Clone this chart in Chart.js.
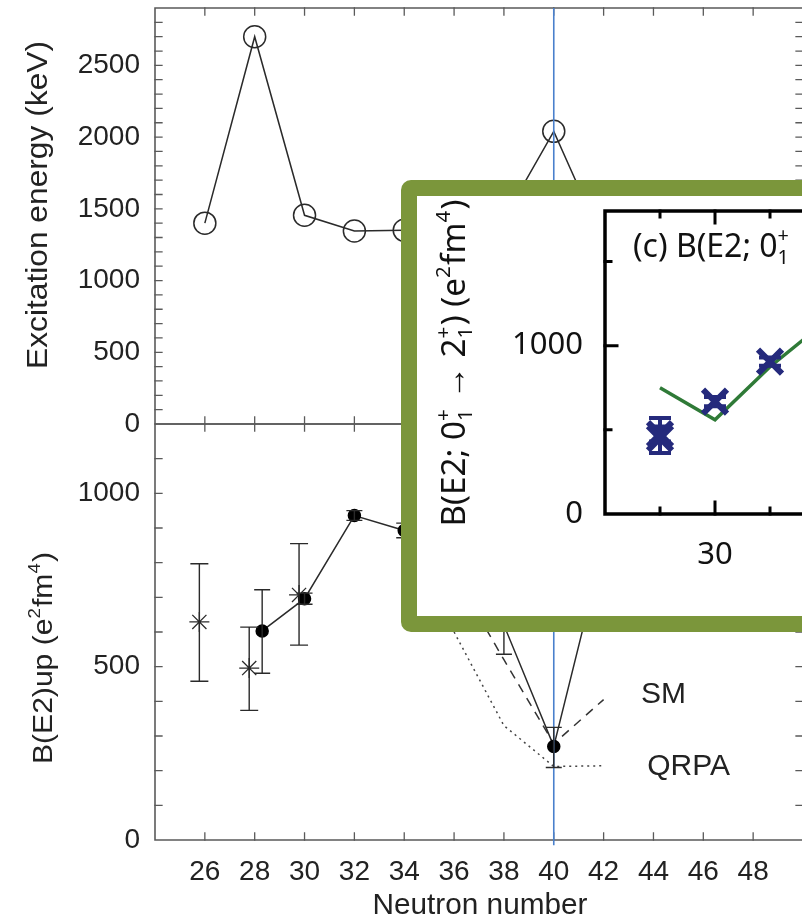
<!DOCTYPE html>
<html lang="en">
<head>
<meta charset="UTF-8">
<title>2+ energies and B(E2) vs neutron number</title>
<script src="https://cdn.jsdelivr.net/npm/chart.js@4.4.1/dist/chart.umd.min.js"></script>
<style>
  html, body { margin: 0; padding: 0; background: #fff; overflow: hidden; }
  #page { position: relative; width: 802px; height: 921px; overflow: hidden; }
  canvas { position: absolute; }
  #top { left: 0; top: 0; }
  #bottom { left: 0; top: 420px; }
  /* the green framed inset */
  #inset { position: absolute; left: 401px; top: 180px; width: 440px; height: 420px;
           border: 16px solid #7b963b; border-radius: 10px; background: #fff; }
  #insetChart { left: 0; top: 0; }
</style>
</head>
<body>
<div id="page">
  <canvas id="top" width="812" height="445"></canvas>
  <canvas id="bottom" width="812" height="501"></canvas>
  <div id="inset"><canvas id="insetChart" width="440" height="420"></canvas></div>
</div>

<script>
// ---- top panel: excitation energy of the first 2+ state ----
const energyN = [26, 28, 30, 32, 34, 36, 38, 40, 42];
const energyKeV = [1400, 2700, 1455, 1345, 1350, 1350, 1430, 2040, 1260];

// ---- bottom panel: B(E2)up, filled circles ----
const be2N = [28.3, 30, 32, 34, 36, 38, 40, 42];
const be2Val = [603, 696, 936, 893, 760, 620, 270, 850];
const be2Lo = [481, 680, 922, 872, 740, 536, 209, 800];
const be2Hi = [722, 712, 950, 914, 780, 704, 325, 900];

// ---- bottom panel: other measurements, asterisks ----
const starN = [25.78, 27.78, 29.78];
const starVal = [629, 496, 707];
const starLo = [458, 374, 562];
const starHi = [797, 614, 855];

// ---- calculations ----
const smN = [36, 38, 40, 42];
const smVal = [768, 520, 278, 405];
const qrpaN = [36, 38, 40, 42];
const qrpaVal = [600, 330, 212, 214];

// ---- inset (c) ----
const insetExpN = [28, 28, 30, 32];
const insetExpVal = [475, 450, 667, 905];
const insetExpLo = [430, 363, 640, 880];
const insetExpHi = [570, 520, 695, 930];
const insetCalcN = [28, 30, 32, 34];
const insetCalcVal = [750, 560, 875, 1140];

// tick labels
const mainXLabels = [26, 28, 30, 32, 34, 36, 38, 40, 42, 44, 46, 48];
const energyLabels = [0, 500, 1000, 1500, 2000, 2500];
const be2Labels = [0, 500, 1000];
const insetXLabels = [30];
const insetYLabels = [0, 1000];

const FONT = "'Liberation Sans', Arial, Helvetica, sans-serif";
const INSET_FONT = "'Noto Sans', 'Open Sans', sans-serif";
const INK = '#2a2a2a';
const FRAME = '#5a5a5a';
const BLUE = '#4a80cc';
const NAVY = '#252a7c';
const GREEN = '#2f7a37';

const pts = (xs, ys) => xs.map((x, i) => ({ x, y: ys[i] }));
const range = (a, b, s) => { const r = []; for (let v = a; v <= b + 1e-9; v += s) r.push(v); return r; };
const fixedTicks = list => s => { s.ticks = list.map(v => ({ value: v })); };
// fixed axis size, and no extra room for half labels at the ends
const fixSize = (w, h) => s => {
  if (w !== undefined) s.width = w;
  if (h !== undefined) s.height = h;
  s.paddingTop = s.paddingBottom = s.paddingLeft = s.paddingRight = 0;
};

// draws text with super/subscripts, optionally rotated and stretched to a length
function drawRich(ctx, it, px, py) {
  const size = it.size, small = size * 0.62;
  const big = `${size}px ${it.family}`, little = `${small}px ${it.family}`;
  const segs = it.segs.map(s => typeof s === 'string' ? { t: s } : Object.assign({}, s));
  let total = 0;
  segs.forEach(s => {
    if (s.t !== undefined) { ctx.font = big; s.w = ctx.measureText(s.t).width; }
    else {
      ctx.font = little;
      s.w = Math.max(s.sup ? ctx.measureText(s.sup).width : 0, s.sub ? ctx.measureText(s.sub).width : 0) + size * 0.04;
    }
    total += s.w;
  });
  const stretch = it.len ? it.len / total : 1;
  ctx.save();
  ctx.translate(px, py);
  if (it.rotate) ctx.rotate(it.rotate);
  ctx.scale(stretch, 1);
  ctx.fillStyle = it.color || '#222';
  ctx.textAlign = 'left';
  ctx.textBaseline = 'alphabetic';
  let x = it.align === 'left' ? 0 : -total / 2;
  const base = size * 0.36;
  segs.forEach(s => {
    if (s.t !== undefined) { ctx.font = big; ctx.fillText(s.t, x, base); }
    else {
      ctx.font = little;
      if (s.sup) ctx.fillText(s.sup, x, base - size * 0.45);
      if (s.sub) ctx.fillText(s.sub, x, base + size * 0.22);
    }
    x += s.w;
  });
  ctx.restore();
}

const richText = {
  id: 'richText',
  afterDraw(chart, args, o) {
    (o.items || []).forEach(it => {
      let px = it.x, py = it.y;
      if (it.data) {
        px = chart.scales.x.getPixelForValue(it.x);
        py = chart.scales.y.getPixelForValue(it.y);
      }
      drawRich(chart.ctx, it, px, py);
    });
  }
};

// box around the plot area with inward ticks on every side
const frameTicks = {
  id: 'frameTicks',
  beforeDatasetsDraw(chart, args, o) {
    const { ctx, chartArea: a } = chart;
    const xs = chart.scales.x, ys = chart.scales.y;
    ctx.save();
    ctx.strokeStyle = o.color;
    ctx.lineWidth = o.width;
    ctx.lineCap = 'square';
    ctx.beginPath();
    if (o.sides.includes('l')) { ctx.moveTo(a.left, a.top); ctx.lineTo(a.left, a.bottom); }
    if (o.sides.includes('r')) { ctx.moveTo(a.right, a.top); ctx.lineTo(a.right, a.bottom); }
    if (o.sides.includes('t')) { ctx.moveTo(a.left, a.top); ctx.lineTo(a.right, a.top); }
    if (o.sides.includes('b')) { ctx.moveTo(a.left, a.bottom); ctx.lineTo(a.right, a.bottom); }
    ctx.stroke();
    ctx.lineWidth = o.tickWidth;
    ctx.beginPath();
    o.xTicks.forEach(v => {
      const p = xs.getPixelForValue(v);
      const len = (o.xMajor || []).includes(v) ? o.major : o.minor;
      ctx.moveTo(p, a.bottom); ctx.lineTo(p, a.bottom - len);
      ctx.moveTo(p, a.top); ctx.lineTo(p, a.top + len);
    });
    o.yTicks.forEach(v => {
      const p = ys.getPixelForValue(v);
      const len = (o.yMajor || []).includes(v) ? o.major : o.minor;
      ctx.moveTo(a.left, p); ctx.lineTo(a.left + len, p);
      ctx.moveTo(a.right, p); ctx.lineTo(a.right - len, p);
    });
    ctx.stroke();
    ctx.restore();
  }
};

// vertical error bars with caps, from errLow / errHigh on the dataset
const errorBars = {
  id: 'errorBars',
  afterDatasetsDraw(chart) {
    const { ctx } = chart, y = chart.scales.y;
    chart.data.datasets.forEach((ds, i) => {
      if (!ds.errLow) return;
      const meta = chart.getDatasetMeta(i);
      ctx.save();
      ctx.strokeStyle = ds.errColor || ds.borderColor;
      ctx.lineWidth = ds.errWidth || 1.5;
      const w = ds.capHalf || 8;
      meta.data.forEach((pt, j) => {
        const lo = y.getPixelForValue(ds.errLow[j]), hi = y.getPixelForValue(ds.errHigh[j]);
        ctx.beginPath();
        ctx.moveTo(pt.x, lo); ctx.lineTo(pt.x, hi);
        ctx.moveTo(pt.x - w, lo); ctx.lineTo(pt.x + w, lo);
        ctx.moveTo(pt.x - w, hi); ctx.lineTo(pt.x + w, hi);
        ctx.stroke();
      });
      ctx.restore();
    });
  }
};

const base = () => ({
  responsive: false,
  animation: false,
  devicePixelRatio: 1,
  events: [],
  plugins: { legend: { display: false }, tooltip: { enabled: false } }
});

const tickFont = { family: FONT, size: 28 };
const plain = v => String(v);

// ---------- top panel ----------
const topOpts = base();
topOpts.layout = { autoPadding: false, padding: { top: 8, right: 9, bottom: 21, left: 0 } };
topOpts.scales = {
  x: { type: 'linear', min: 24, max: 50, display: false },
  y: {
    min: 0, max: 2900,
    afterFit: fixSize(155),
    afterBuildTicks: fixedTicks(energyLabels),
    grid: { display: false, drawTicks: false },
    border: { display: false },
    ticks: { autoSkip: false, padding: 15, color: '#222', font: tickFont, callback: plain }
  }
};
topOpts.plugins.frameTicks = { color: FRAME, width: 1.6, tickWidth: 1.3, sides: 'lrtb',
  xTicks: range(26, 48, 2), yTicks: range(100, 2800, 100), major: 7, minor: 7 };
topOpts.plugins.richText = { items: [
  { segs: ['Excitation energy (keV)'], x: 37, y: 205, size: 29, family: FONT, rotate: -Math.PI / 2, len: 328 }
] };

new Chart(document.getElementById('top'), {
  type: 'scatter',
  data: { datasets: [
    { data: pts([40, 40], [0, 2900]), showLine: true, borderColor: BLUE, borderWidth: 1.6, pointRadius: 0 },
    { data: pts(energyN, energyKeV), showLine: true, borderColor: INK, borderWidth: 1.5,
      pointRadius: 11, pointBorderWidth: 1.5, pointBackgroundColor: 'rgba(0,0,0,0)', pointBorderColor: INK }
  ] },
  options: topOpts,
  plugins: [frameTicks, errorBars, richText]
});

// ---------- bottom panel ----------
const botOpts = base();
botOpts.layout = { autoPadding: false, padding: { top: 4, right: 9, bottom: 0, left: 0 } };
botOpts.scales = {
  x: {
    type: 'linear', min: 24, max: 50,
    afterFit: fixSize(undefined, 81),
    afterBuildTicks: fixedTicks(mainXLabels),
    grid: { display: false, drawTicks: false },
    border: { display: false },
    ticks: { padding: 15, color: '#222', font: tickFont, maxRotation: 0, autoSkip: false, callback: plain }
  },
  y: {
    min: 0, max: 1200,
    afterFit: fixSize(155),
    afterBuildTicks: fixedTicks(be2Labels),
    grid: { display: false, drawTicks: false },
    border: { display: false },
    ticks: { autoSkip: false, padding: 15, color: '#222', font: tickFont, callback: plain }
  }
};
botOpts.plugins.frameTicks = { color: FRAME, width: 1.6, tickWidth: 1.3, sides: 'lrtb',
  xTicks: range(26, 48, 2), yTicks: range(100, 1100, 100), major: 7, minor: 7 };
botOpts.plugins.richText = { items: [
  { segs: ['B(E2)up (e', { sup: '2' }, 'fm', { sup: '4' }, ')'], x: 42, y: 238, size: 27, family: FONT,
    rotate: -Math.PI / 2, len: 212 },
  { segs: ['Neutron number'], x: 480, y: 484, size: 29, family: FONT, len: 215 },
  { segs: ['SM'], data: true, x: 43.5, y: 425, size: 30, family: FONT, align: 'left' },
  { segs: ['QRPA'], data: true, x: 43.75, y: 220, size: 30, family: FONT, align: 'left' }
] };

new Chart(document.getElementById('bottom'), {
  type: 'scatter',
  data: { datasets: [
    { data: pts([40, 40], [-15, 1200]), showLine: true, borderColor: BLUE, borderWidth: 1.6, pointRadius: 0, clip: false },
    { data: pts(be2N, be2Val), showLine: true, borderColor: INK, borderWidth: 1.5,
      pointRadius: 6, pointBackgroundColor: '#000', pointBorderColor: '#000',
      errLow: be2Lo, errHigh: be2Hi, errWidth: 1.4, capHalf: 8 },
    { data: pts(starN, starVal), showLine: false, borderColor: INK, pointStyle: 'star',
      pointRadius: 10, pointBorderWidth: 1.3, pointBorderColor: INK,
      errLow: starLo, errHigh: starHi, errWidth: 1.4, capHalf: 9 },
    { data: pts(smN, smVal), showLine: true, borderColor: '#333', borderWidth: 1.5, borderDash: [9, 7], pointRadius: 0 },
    { data: pts(qrpaN, qrpaVal), showLine: true, borderColor: '#444', borderWidth: 1.5, borderDash: [2, 4], pointRadius: 0 }
  ] },
  options: botOpts,
  plugins: [frameTicks, errorBars, richText]
});

// ---------- inset (c) ----------
const insetFont = { family: INSET_FONT, size: 31 };
const insOpts = base();
insOpts.layout = { autoPadding: false, padding: { top: 15, right: 32, bottom: 0, left: 0 } };
insOpts.scales = {
  x: {
    type: 'linear', min: 26, max: 34,
    afterFit: fixSize(undefined, 102),
    afterBuildTicks: fixedTicks(insetXLabels),
    grid: { display: false, drawTicks: false },
    border: { display: false },
    ticks: { padding: 23, color: '#111', font: insetFont, maxRotation: 0, autoSkip: false, callback: plain }
  },
  y: {
    min: 0, max: 1800,
    afterFit: fixSize(188),
    afterBuildTicks: fixedTicks(insetYLabels),
    grid: { display: false, drawTicks: false },
    border: { display: false },
    ticks: { autoSkip: false, padding: 22, color: '#111', font: insetFont, callback: plain }
  }
};
insOpts.plugins.frameTicks = { color: '#000', width: 3.5, tickWidth: 3, sides: 'lrtb',
  xTicks: [28, 30, 32, 34], xMajor: [30], yTicks: [500, 1000, 1500], yMajor: [1000], major: 12, minor: 6 };
insOpts.plugins.richText = { items: [
  { segs: ['(c) B(E2; 0', { sup: '+', sub: '1' }, ' \u2192 2', { sup: '+', sub: '1' }, ')'],
    x: 216, y: 49, size: 32, family: INSET_FONT, align: 'left', color: '#111' },
  { segs: ['B(E2; 0', { sup: '+', sub: '1' }, ' \u2192 2', { sup: '+', sub: '1' }, ') (e', { sup: '2' }, 'fm', { sup: '4' }, ')'],
    x: 36, y: 167, size: 33, family: INSET_FONT, rotate: -Math.PI / 2, len: 327, color: '#111' }
] };

new Chart(document.getElementById('insetChart'), {
  type: 'scatter',
  data: { datasets: [
    { data: pts(insetExpN, insetExpVal), showLine: false, borderColor: NAVY, pointStyle: 'crossRot',
      pointRadius: 17, pointBorderWidth: 6, pointBorderColor: NAVY,
      errLow: insetExpLo, errHigh: insetExpHi, errWidth: 4, capHalf: 11 },
    { data: pts(insetCalcN, insetCalcVal), showLine: true, borderColor: GREEN, borderWidth: 3.5, pointRadius: 0 }
  ] },
  options: insOpts,
  plugins: [frameTicks, errorBars, richText]
});
</script>
</body>
</html>
